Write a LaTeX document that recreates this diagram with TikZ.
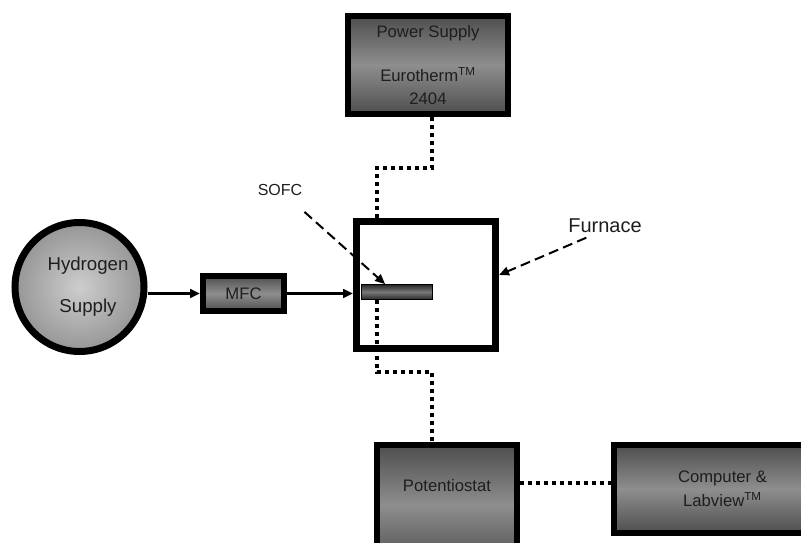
\documentclass[tikz,border=0pt]{standalone}
\usepackage{fontspec}
\setmainfont{Liberation Sans}
\usetikzlibrary{arrows.meta, positioning}
\definecolor{boxdark}{RGB}{78,78,78}
\definecolor{boxlight}{RGB}{142,142,142}
\definecolor{tankin}{RGB}{205,205,205}
\definecolor{tankout}{RGB}{150,150,150}
\definecolor{cellmid}{RGB}{120,120,120}
\definecolor{celldark}{RGB}{40,40,40}
\definecolor{inktext}{RGB}{30,30,30}

\begin{document}
\begin{tikzpicture}[
            x=0.75pt, y=-0.75pt,
            >={Triangle[length=7.5pt, width=6.5pt]},
            font=\fontsize{12.5}{15}\selectfont,
            text=inktext,
            device/.style={
                draw,
                rectangle,
                line width=4.5pt,
                top color=boxdark,
                bottom color=boxdark,
                middle color=boxlight,
                align=center,
                inner sep=0pt
            },
            tank/.style={
                draw,
                circle,
                line width=5.25pt,
                inner color=tankin,
                outer color=tankout,
                minimum size=96.75pt,
                align=center,
                inner sep=0pt,
                font=\fontsize{14}{16.8}\selectfont
            },
            oven/.style={draw, rectangle, line width=5.25pt, fill=white, inner sep=0pt},
            cell/.style={
                draw,
                rectangle,
                line width=0.6pt,
                top color=celldark,
                bottom color=celldark,
                middle color=cellmid,
                inner sep=0pt
            },
            feed/.style={->, line width=2pt},
            pointer/.style={->, line width=1.5pt, dash pattern=on 7.5pt off 4pt},
            signal/.style={line width=3pt, dash pattern=on 3pt off 3pt}
        ]
            \useasboundingbox (0,0) rectangle (801,543);

            % Fonte de hidrogenio
            \node [tank] (hydrogen) at (79.5,287)
                {\hspace*{12.75pt}Hydrogen\\[14.7pt]\hspace*{12.75pt}Supply};

            % Controlador de vazao
            \node [device, minimum width=60.75pt, minimum height=26.25pt] (mfc) at (243.5,293.5) {MFC};

            % Forno e celula
            \node [oven, minimum width=104.25pt, minimum height=95.25pt] (furnace) at (426,285) {};
            \node [cell, minimum width=53.25pt, minimum height=11.25pt] (sofc) at (397,292) {};

            % Fonte de potencia
            \node [device, minimum width=120pt, minimum height=73.5pt] (power) at (428,65)
                {Power Supply\\[18pt]Eurotherm\textsuperscript{TM}\\[2.25pt]2404};

            % Potenciostato e computador
            \node [device, minimum width=105pt, minimum height=90pt, text depth=30pt] (potentiostat) at (447,505) {Potentiostat};
            \node [device, minimum width=162.75pt, minimum height=66pt] (computer) at (722.5,489)
                {Computer \&\\[3pt]Labview\textsuperscript{TM}};

            % Rotulos
            \node [font=\fontsize{12}{14.4}\selectfont] (sofclabel) at (280,190) {SOFC};
            \node [font=\fontsize{15}{18}\selectfont] (furnacelabel) at (605,226) {Furnace};

            % Gas
            \draw [feed] (hydrogen.east |- mfc.west) -- (mfc.west);
            \draw [feed] (mfc.east) -- (mfc.east -| furnace.west);

            % Setas tracejadas
            \draw [pointer, shorten <=13pt] (sofclabel) -- ([xshift=18pt]sofc.north west);
            \draw [pointer] ([xshift=-14pt]furnacelabel.south) -- ([yshift=7.5pt]furnace.east);

            % Fios
            \coordinate (upperbend) at (377,168);
            \coordinate (lowerbend) at (377,372);
            \coordinate (datalink) at (566,483);
            \draw [signal] ([xshift=3pt]power.south) |- (upperbend) -- (upperbend |- furnace.north);
            \draw [signal] (lowerbend |- sofc.south) -- (lowerbend) -| ([xshift=-11.25pt]potentiostat.north);
            \draw [signal] (potentiostat.east |- datalink) -- (computer.west |- datalink);
        \end{tikzpicture}
\end{document}
